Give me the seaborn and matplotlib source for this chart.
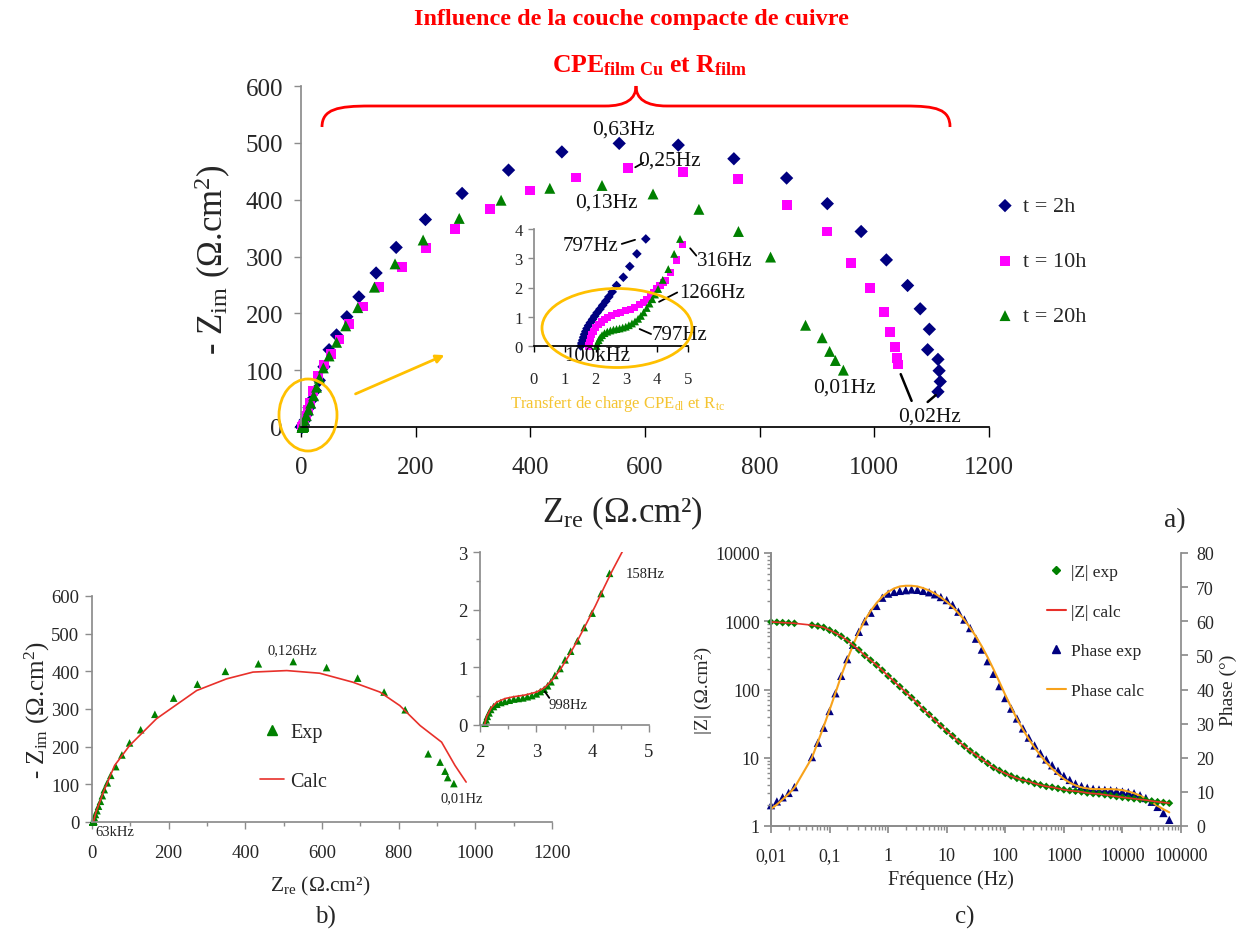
import matplotlib
matplotlib.use("Agg")
import matplotlib.pyplot as plt
import seaborn as sns
from matplotlib.path import Path
from matplotlib.patches import PathPatch, Ellipse, FancyArrowPatch
from matplotlib.lines import Line2D
from matplotlib.ticker import LogLocator, NullFormatter, MultipleLocator

# ---- panel a) : Nyquist plots at 2h, 10h, 20h (Zre, -Zim in ohm.cm2) ----
x_2h = [1.52, 1.55, 1.58, 1.61, 1.64, 1.68, 1.72, 1.77, 1.83, 1.90, 1.97, 2.05, 2.14, 2.23,
        2.33, 2.43, 2.54, 2.68, 2.90, 3.11, 3.34, 3.63,
        7, 10, 14, 19, 25, 32, 40, 49, 62, 80, 101, 131, 166, 217, 281, 362, 455, 555,
        658, 755, 847, 918, 977, 1021, 1058, 1080, 1096, 1093, 1111, 1113, 1115, 1111]
y_2h = [0.00, 0.10, 0.20, 0.30, 0.40, 0.50, 0.60, 0.70, 0.80, 0.91, 1.02, 1.14, 1.26, 1.39,
        1.53, 1.68, 1.85, 2.07, 2.35, 2.72, 3.15, 3.66,
        12, 22, 34, 48, 64, 82, 106, 136, 162, 194, 229, 271, 316, 365, 411, 452, 484, 499,
        496, 472, 438, 393, 344, 294, 249, 208, 172, 136, 119, 99, 80, 62]

x_10h = [1.76, 1.79, 1.83, 1.88, 1.94, 2.01, 2.09, 2.18, 2.28, 2.40, 2.53, 2.67, 2.82, 2.97,
         3.12, 3.27, 3.42, 3.55, 3.67, 3.78, 3.88, 3.98, 4.09, 4.19, 4.28, 4.44, 4.62, 4.82,
         6, 9, 12, 16, 21, 30, 40, 52, 67, 84, 108, 136, 176, 218, 269, 329, 400, 479, 571,
         666, 762, 847, 918, 959, 992, 1017, 1028, 1036, 1039, 1041]
y_10h = [0.00, 0.12, 0.25, 0.38, 0.50, 0.62, 0.72, 0.82, 0.90, 0.98, 1.05, 1.10, 1.15, 1.20,
         1.26, 1.33, 1.41, 1.50, 1.60, 1.71, 1.83, 1.95, 2.07, 2.17, 2.23, 2.51, 2.94, 3.46,
         10, 20, 30, 42, 64, 90, 110, 129, 154, 181, 212, 247, 281, 315, 348, 384, 416, 439, 456,
         449, 436, 390, 344, 288, 245, 202, 167, 141, 122, 110]

x_20h = [2.03, 2.06, 2.10, 2.15, 2.21, 2.29, 2.38, 2.48, 2.58, 2.68, 2.78, 2.88, 2.98, 3.08,
         3.18, 3.28, 3.38, 3.47, 3.56, 3.66, 3.75, 3.84, 3.93, 4.03, 4.18, 4.36, 4.55, 4.74,
         4, 6, 9, 13, 17, 22, 27, 32, 39, 49, 62, 78, 99, 128, 164, 213, 276, 349, 434, 525,
         614, 694, 763, 819, 880, 909, 922, 932, 946]
y_20h = [0.00, 0.10, 0.20, 0.29, 0.37, 0.44, 0.49, 0.53, 0.56, 0.58, 0.60, 0.63, 0.66, 0.71,
         0.77, 0.84, 0.93, 1.03, 1.15, 1.30, 1.45, 1.60, 1.76, 1.95, 2.26, 2.63, 3.15, 3.66,
         6, 12, 20, 30, 42, 55, 70, 86, 104, 125, 149, 178, 210, 246, 287, 329, 367, 399, 420, 425,
         410, 383, 344, 299, 179, 157, 133, 117, 100]

# ---- panel b) : 20h fit ----
b_exp_x = [2.09, 2.11, 2.13, 2.16, 2.19, 2.24, 2.30, 2.37, 2.44, 2.52, 2.60, 2.68, 2.76, 2.84,
           2.92, 3.00, 3.07, 3.14, 3.20, 3.26, 3.33, 3.42, 3.51, 3.61, 3.73, 3.85, 3.99, 4.15, 4.30,
           6, 9, 13, 17, 22, 27, 32, 40, 49, 62, 78, 98, 127, 164, 213, 275, 348, 434, 525,
           612, 693, 762, 817, 877, 908, 921, 928, 944]
b_exp_y = [0.03, 0.09, 0.15, 0.21, 0.27, 0.32, 0.36, 0.39, 0.41, 0.43, 0.45, 0.46, 0.47, 0.49,
           0.51, 0.54, 0.58, 0.62, 0.68, 0.75, 0.86, 0.98, 1.13, 1.28, 1.46, 1.69, 1.94, 2.28, 2.63,
           12, 20, 30, 42, 55, 70, 86, 104, 124, 147, 178, 210, 245, 286, 329, 366, 400, 420, 426,
           410, 382, 345, 298, 181, 159, 135, 118, 102]
b_calc_x = [2.08, 2.12, 2.20, 2.30, 2.45, 2.60, 2.80, 3.00, 3.15, 3.30, 3.45, 3.60, 3.75, 3.90,
            4.05, 4.20, 4.35, 4.55,
            10, 30, 59, 98, 168, 273, 351, 420, 508, 594, 681, 751, 803, 856, 912, 947, 976]
b_calc_y = [0.00, 0.15, 0.30, 0.40, 0.46, 0.49, 0.52, 0.57, 0.65, 0.80, 1.00, 1.24, 1.50, 1.78,
            2.07, 2.38, 2.68, 3.05,
            25, 80, 150, 203, 274, 349, 380, 398, 402, 395, 371, 345, 309, 256, 212, 150, 106]

# ---- panel c) : Bode plot ----
freq_hz = [0.01, 0.0126, 0.0158, 0.02, 0.0251,
           0.05, 0.0631, 0.0794, 0.1, 0.126, 0.158, 0.2, 0.251, 0.316, 0.398, 0.501, 0.631, 0.794,
           1, 1.26, 1.58, 2, 2.51, 3.16, 3.98, 5.01, 6.31, 7.94,
           10, 12.6, 15.8, 20, 25.1, 31.6, 39.8, 50.1, 63.1, 79.4,
           100, 126, 158, 200, 251, 316, 398, 501, 631, 794,
           1000, 1260, 1580, 2000, 2510, 3160, 3980, 5010, 6310, 7940,
           10000, 12600, 15800, 20000, 25100, 31600, 39800, 50100, 63100]
z_exp = [977, 966, 955, 944, 933,
         877, 851, 813, 741, 676, 603, 525, 447, 380, 316, 269, 229, 191,
         158, 132, 110, 91, 76, 63, 51, 43, 35.5, 29.5,
         24.5, 20.9, 17.4, 14.8, 12.6, 11.0, 9.5, 8.3, 7.2, 6.5,
         5.9, 5.4, 5.0, 4.7, 4.5, 4.2, 4.0, 3.8, 3.7, 3.55,
         3.4, 3.3, 3.24, 3.16, 3.05, 2.99, 2.95, 2.87, 2.79, 2.70,
         2.63, 2.57, 2.51, 2.45, 2.40, 2.32, 2.26, 2.21, 2.16]
z_calc = z_exp  # the fitted modulus lies on the measured points
phase_exp = [6.1, 7.2, 8.4, 9.7, 11.4,
             20.2, 24.4, 28.8, 33.7, 38.9, 44.0, 48.9, 53.1, 56.9, 60.0, 62.5, 64.5, 66.9,
             68.1, 68.6, 68.9, 69.1, 69.3, 69.2, 68.9, 68.5, 67.9, 67.1,
             66.2, 64.8, 62.8, 60.5, 58.0, 54.9, 51.7, 48.3, 44.6, 41.0,
             37.5, 34.4, 31.5, 28.6, 25.9, 23.6, 21.3, 19.5, 17.8, 16.2,
             14.7, 13.5, 12.4, 11.7, 11.2, 10.9, 10.7, 10.6, 10.5, 10.3,
             10.1, 9.9, 9.6, 9.0, 8.2, 7.1, 5.6, 3.8, 1.8]
phase_calc = [5.0, 6.3, 7.8, 9.4, 11.2,
              20.0, 24.6, 29.2, 34.0, 39.0, 44.0, 48.7, 53.0, 56.9, 60.2, 63.0, 65.3, 67.2,
              68.6, 69.6, 70.2, 70.4, 70.4, 70.2, 69.7, 69.0, 68.1, 67.0,
              65.7, 64.2, 62.4, 60.4, 58.1, 55.5, 52.6, 49.4, 45.9, 42.2,
              38.4, 34.8, 31.4, 28.3, 25.5, 23.0, 20.7, 18.6, 16.8, 15.2,
              13.8, 12.7, 11.9, 11.3, 11.0, 10.8, 10.8, 10.8, 10.8, 10.7,
              10.5, 10.1, 9.6, 8.9, 8.0, 7.0, 5.9, 4.9, 4.0]

NAVY = "#000080"
MAGENTA = "#FF00FF"
GREEN = "#008000"
RED = "#FF0000"
CALC_RED = "#E8302A"
ORANGE = "#F7A21B"
GOLD = "#FFC000"
GRAY = "#8C8C8C"

sns.set_theme(style="ticks")
plt.rcParams['font.family'] = ['Liberation Serif', 'DejaVu Serif']
plt.rcParams['mathtext.fontset'] = 'custom'
plt.rcParams['mathtext.rm'] = 'Liberation Serif'
plt.rcParams['mathtext.it'] = 'Liberation Serif:italic'
plt.rcParams['mathtext.bf'] = 'Liberation Serif:bold'

W, H = 1260, 937
fig = plt.figure(figsize=(12.6, 9.37), dpi=100)


def fx(px):
    return px / W


def fy(py):
    return 1 - py / H


def box(x0, y0, x1, y1):
    return [fx(x0), fy(y1), (x1 - x0) / W, (y1 - y0) / H]


def style_axes(ax, color, size):
    for side in ['top', 'right']:
        ax.spines[side].set_visible(False)
    for side in ['left', 'bottom']:
        ax.spines[side].set_color(color)
    ax.tick_params(direction='out', length=5, width=1, color=color, labelsize=size, pad=4)


# ================= a) main Nyquist plot =================
ax = fig.add_axes(box(301, 87, 989, 428))
sns.scatterplot(x=x_2h, y=y_2h, marker='D', color=NAVY, s=46, edgecolor='none',
                label='t = 2h', ax=ax, clip_on=False)
sns.scatterplot(x=x_10h, y=y_10h, marker='s', color=MAGENTA, s=50, edgecolor='none',
                label='t = 10h', ax=ax, clip_on=False)
sns.scatterplot(x=x_20h, y=y_20h, marker='^', color=GREEN, s=62, edgecolor='none',
                label='t = 20h', ax=ax, clip_on=False)
ax.set_xlim(0, 1200)
ax.set_ylim(0, 600)
ax.set_xticks(range(0, 1201, 200))
ax.set_yticks(range(0, 601, 100))
style_axes(ax, 'black', 18)
ax.spines['left'].set_color(GRAY)
ax.tick_params(axis='y', color=GRAY, pad=8)
ax.tick_params(axis='x', length=7, pad=14)
ax.set_xlabel('')
ax.set_ylabel('')
ax.legend(loc='upper left', bbox_to_anchor=(fx(985), fy(188)), bbox_transform=fig.transFigure,
          frameon=False, fontsize=16, labelspacing=1.55, handletextpad=0.3, handlelength=1.0,
          borderaxespad=0)

lbl = dict(fontsize=15.5, color='#111111', ha='center', va='center')
ax.text(562, 525, '0,63Hz', **lbl)
ax.text(642, 469, '0,25Hz', **lbl)
ax.plot([583, 597], [457, 465], color='black', lw=1.3)
ax.text(532, 395, '0,13Hz', **lbl)
ax.text(947, 70, '0,01Hz', **lbl)
ax.text(1097, 20, '0,02Hz', **lbl)
ax.plot([1046, 1065], [93, 46], color='black', lw=1.8)
ax.plot([1093, 1107], [44, 56], color='black', lw=1.8)

fig.text(fx(213), fy(260), r'- Z$_{\mathrm{im}}$ (Ω.cm$^{2}$)', fontsize=25, rotation=90,
         ha='center', va='center')
fig.text(fx(622), fy(513), r'Z$_{\mathrm{re}}$ (Ω.cm²)', fontsize=25, ha='center', va='center')
fig.text(fx(1175), fy(521), 'a)', fontsize=20, ha='center', va='center')

# title and brace
fig.text(fx(631), fy(20), 'Influence de la couche compacte de cuivre', fontsize=17.5,
         fontweight='bold', color=RED, ha='center', va='center')
fig.text(fx(650), fy(66), r'$\mathbf{CPE_{film\ Cu}}$ et $\mathbf{R_{film}}$', fontsize=18.5,
         fontweight='bold', color=RED, ha='center', va='center')
brace = [(322, 128), (322, 110), (338, 107), (370, 107), (605, 107), (626, 107), (636, 100),
         (636, 87), (636, 100), (646, 107), (667, 107), (905, 107), (936, 107), (950, 110),
         (950, 128)]
codes = [Path.MOVETO, Path.CURVE4, Path.CURVE4, Path.CURVE4, Path.LINETO, Path.CURVE4,
         Path.CURVE4, Path.CURVE4, Path.CURVE4, Path.CURVE4, Path.CURVE4, Path.LINETO,
         Path.CURVE4, Path.CURVE4, Path.CURVE4]
brace_path = Path([(fx(px), fy(py)) for px, py in brace], codes)
fig.patches.append(PathPatch(brace_path, facecolor='none', edgecolor=RED, lw=2,
                             transform=fig.transFigure))

# charge transfer highlight
fig.patches.append(Ellipse((fx(308), fy(416)), 58 / W, 72 / H, facecolor='none',
                           edgecolor=GOLD, lw=2, transform=fig.transFigure))
fig.patches.append(FancyArrowPatch((fx(353), fy(396)), (fx(447), fy(355)),
                                   arrowstyle='-|>', mutation_scale=12, color=GOLD, lw=2,
                                   transform=fig.transFigure))
fig.text(fx(618), fy(404), r'Transfert de charge CPE$_{\mathrm{dl}}$ et R$_{\mathrm{tc}}$',
         fontsize=12, color='#F5C431', ha='center', va='center')

# inset zoom on high frequencies
ax_in = fig.add_axes(box(534, 230, 688, 347))
ax_in.set_facecolor('none')
sns.scatterplot(x=x_2h[:22], y=y_2h[:22], marker='D', color=NAVY, s=24, edgecolor='none',
                ax=ax_in, clip_on=False)
sns.scatterplot(x=x_10h[:28], y=y_10h[:28], marker='s', color=MAGENTA, s=26, edgecolor='none',
                ax=ax_in, clip_on=False)
sns.scatterplot(x=x_20h[:28], y=y_20h[:28], marker='^', color=GREEN, s=32, edgecolor='none',
                ax=ax_in, clip_on=False)
ax_in.set_xlim(0, 5)
ax_in.set_ylim(0, 4)
ax_in.set_xticks(range(0, 6))
ax_in.set_yticks(range(0, 5))
style_axes(ax_in, 'black', 12)
ax_in.spines['left'].set_color(GRAY)
ax_in.tick_params(axis='y', color=GRAY, length=4)
ax_in.tick_params(axis='x', length=4, pad=14)
ins = dict(fontsize=15, color='#111111', va='center')
ax_in.text(2.75, 3.45, '797Hz', ha='right', **ins)
ax_in.plot([2.85, 3.28], [3.49, 3.63], color='black', lw=1.3, clip_on=False)
ax_in.text(5.3, 2.92, '316Hz', ha='left', **ins)
ax_in.plot([5.07, 5.27], [3.34, 3.09], color='black', lw=1.3, clip_on=False)
ax_in.text(4.7, 1.84, '1266Hz', ha='left', **ins)
ax_in.plot([4.06, 4.65], [1.51, 1.83], color='black', lw=1.3, clip_on=False)
ax_in.text(3.83, 0.38, '797Hz', ha='left', **ins)
ax_in.plot([3.43, 3.8], [0.58, 0.41], color='black', lw=1.3, clip_on=False)
ax_in.text(2.05, -0.31, '100kHz', ha='center', **ins)
fig.patches.append(Ellipse((fx(617), fy(329)), 150 / W, 79 / H, facecolor='none',
                           edgecolor=GOLD, lw=2, transform=fig.transFigure))

# ================= b) Nyquist fit at 20h =================
ax_b = fig.add_axes(box(92, 597, 552, 823))
sns.lineplot(x=b_calc_x, y=b_calc_y, color=CALC_RED, lw=1.2, sort=False, estimator=None, ax=ax_b)
sns.scatterplot(x=b_exp_x, y=b_exp_y, marker='^', color=GREEN, s=30, edgecolor='none',
                ax=ax_b, clip_on=False)
ax_b.set_xlim(0, 1200)
ax_b.set_ylim(0, 600)
ax_b.set_xticks(range(0, 1201, 200))
ax_b.set_yticks(range(0, 601, 100))
ax_b.xaxis.set_minor_locator(MultipleLocator(100))
style_axes(ax_b, GRAY, 13.5)
ax_b.tick_params(which='minor', direction='out', length=3, color=GRAY)
ax_b.tick_params(axis='x', pad=11)
ax_b.set_xlabel('')
ax_b.set_ylabel('')
ax_b.legend(handles=[Line2D([], [], marker='^', color=GREEN, ls='none', markersize=7),
                     Line2D([], [], color=CALC_RED, lw=1.2)],
            labels=['Exp', 'Calc'], loc='upper left', bbox_to_anchor=(fx(252), fy(716)),
            bbox_transform=fig.transFigure, frameon=False, fontsize=14.5, labelspacing=1.5,
            handlelength=1.2, handletextpad=0.3, borderaxespad=0)
sm = dict(fontsize=10.5, color='#222222', ha='center', va='center')
ax_b.text(524, 457, '0,126Hz', **sm)
ax_b.text(965, 64, '0,01Hz', **sm)
ax_b.text(60, -24, '63kHz', **sm)
fig.text(fx(37), fy(710), r'- Z$_{\mathrm{im}}$ (Ω.cm$^{2}$)', fontsize=18, rotation=90,
         ha='center', va='center')
fig.text(fx(320), fy(886), r'Z$_{\mathrm{re}}$ (Ω.cm²)', fontsize=15.5, ha='center', va='center')
fig.text(fx(325), fy(917), 'b)', fontsize=18, ha='center', va='center')

ax_b2 = fig.add_axes(box(480, 553, 649, 726))
ax_b2.set_facecolor('none')
sns.lineplot(x=b_calc_x[:18], y=b_calc_y[:18], color=CALC_RED, lw=1.2, sort=False,
             estimator=None, ax=ax_b2)
sns.scatterplot(x=b_exp_x[:29], y=b_exp_y[:29], marker='^', color=GREEN, s=30, edgecolor='none',
                ax=ax_b2, clip_on=False)
ax_b2.set_xlim(2, 5)
ax_b2.set_ylim(0, 3)
ax_b2.set_xticks([2, 3, 4, 5])
ax_b2.set_yticks([0, 1, 2, 3])
ax_b2.xaxis.set_minor_locator(MultipleLocator(0.5))
ax_b2.yaxis.set_minor_locator(MultipleLocator(0.5))
style_axes(ax_b2, GRAY, 13.5)
ax_b2.tick_params(which='minor', direction='out', length=3, color=GRAY)
ax_b2.tick_params(axis='x', pad=8)
ax_b2.set_xlabel('')
ax_b2.set_ylabel('')
ax_b2.text(3.56, 0.35, '998Hz', **sm)
ax_b2.plot([3.15, 3.23], [0.58, 0.47], color='black', lw=1.3)
ax_b2.text(4.58, 2.62, '158Hz', fontsize=10.5, color='#222222', ha='left', va='center')

# ================= c) Bode plot =================
ax_c = fig.add_axes(box(771, 554, 1181, 827))
ax_p = ax_c.twinx()
ax_c.set_zorder(ax_p.get_zorder() + 1)
ax_c.patch.set_visible(False)
sns.lineplot(x=freq_hz, y=z_calc, color=CALC_RED, lw=1.2, sort=False, estimator=None, ax=ax_c)
sns.scatterplot(x=freq_hz, y=z_exp, marker='D', color=GREEN, s=16, edgecolor='none', ax=ax_c,
                clip_on=False)
sns.lineplot(x=freq_hz, y=phase_calc, color=ORANGE, lw=1.5, sort=False, estimator=None, ax=ax_p)
sns.scatterplot(x=freq_hz, y=phase_exp, marker='^', color=NAVY, s=36, edgecolor='none', ax=ax_p,
                clip_on=False)
ax_c.set_xscale('log')
ax_c.set_yscale('log')
ax_c.set_xlim(0.01, 100000)
ax_c.set_ylim(1, 10000)
ax_p.set_ylim(0, 80)
ax_p.set_yticks(range(0, 81, 10))
ax_c.set_xticks([0.01, 0.1, 1, 10, 100, 1000, 10000, 100000])
ax_c.set_xticklabels(['0,01', '0,1', '1', '10', '100', '1000', '10000', '100000'])
ax_c.set_yticks([1, 10, 100, 1000, 10000])
ax_c.set_yticklabels(['1', '10', '100', '1000', '10000'])
ax_c.xaxis.set_minor_locator(LogLocator(base=10, subs=range(2, 10), numticks=20))
ax_c.yaxis.set_minor_locator(LogLocator(base=10, subs=range(2, 10), numticks=20))
ax_c.xaxis.set_minor_formatter(NullFormatter())
ax_c.yaxis.set_minor_formatter(NullFormatter())
for a in (ax_c, ax_p):
    for side in a.spines:
        a.spines[side].set_color(GRAY)
    a.spines['top'].set_visible(False)
    a.set_xlabel('')
    a.set_ylabel('')
ax_c.spines['right'].set_visible(False)
ax_c.tick_params(which='both', direction='out', color=GRAY, labelsize=13)
ax_c.tick_params(which='major', length=5)
ax_c.tick_params(axis='x', which='major', pad=10)
ax_c.tick_params(axis='y', which='major', pad=3)
ax_c.tick_params(which='minor', length=3)
ax_p.tick_params(direction='out', length=5, color=GRAY, labelsize=13, pad=6)
ax_c.legend(handles=[Line2D([], [], marker='D', color=GREEN, ls='none', markersize=4.5),
                     Line2D([], [], color=CALC_RED, lw=1.5),
                     Line2D([], [], marker='^', color=NAVY, ls='none', markersize=6),
                     Line2D([], [], color=ORANGE, lw=1.5)],
            labels=['|Z| exp', '|Z| calc', 'Phase exp', 'Phase calc'], loc='upper left',
            bbox_to_anchor=(fx(1040), fy(558)), bbox_transform=fig.transFigure, frameon=False,
            fontsize=12.5, labelspacing=1.35, handlelength=1.1, handletextpad=0.3,
            borderaxespad=0)
fig.text(fx(703), fy(690), '|Z| (Ω.cm²)', fontsize=14, rotation=90, ha='center', va='center')
fig.text(fx(1228), fy(690), 'Phase (°)', fontsize=14, rotation=90, ha='center', va='center')
fig.text(fx(951), fy(880), 'Fréquence (Hz)', fontsize=14.5, ha='center', va='center')
fig.text(fx(965), fy(917), 'c)', fontsize=18, ha='center', va='center')

fig.savefig('out.png', dpi=100)
